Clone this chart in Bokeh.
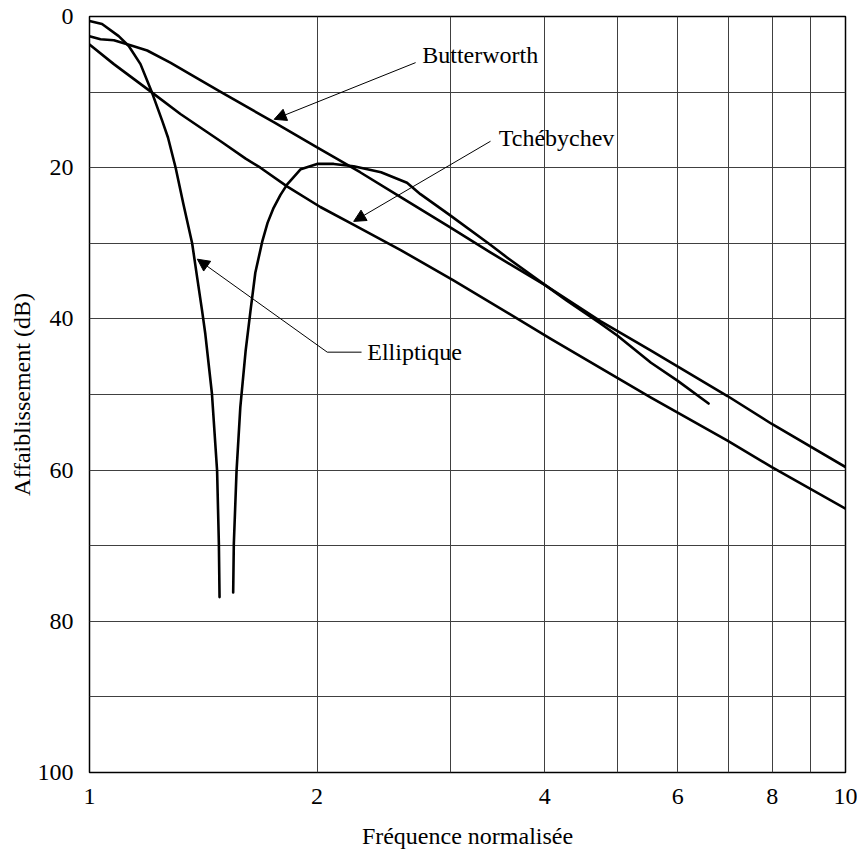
from bokeh.plotting import figure
from bokeh.models import Range1d, FixedTicker, PrintfTickFormatter, Arrow, NormalHead
from bokeh.core.properties import value
from bokeh.embed import file_html
from bokeh.resources import INLINE

# ---- data ----
butter_f = [1.00, 1.034, 1.077, 1.133, 1.192, 1.279, 1.36, 1.483, 1.755, 2.0, 2.28, 2.58, 3.0, 3.39, 4.0, 4.74, 5.53, 6.98, 7.99, 10.0]
butter_db = [2.6, 3.0, 3.15, 3.8, 4.5, 6.1, 7.65, 9.85, 14.0, 17.3, 20.6, 23.9, 27.9, 31.2, 35.5, 40.3, 44.2, 50.2, 53.9, 59.6]

tcheb_f = [1.0, 1.077, 1.204, 1.319, 1.491, 1.609, 1.683, 1.827, 2.02, 2.24, 2.58, 3.03, 4.07, 5.53, 6.98, 7.99, 10.0]
tcheb_db = [3.7, 6.3, 9.9, 12.9, 16.5, 18.8, 20.0, 22.5, 25.2, 27.6, 30.9, 34.9, 42.6, 50.4, 56.1, 59.6, 65.1]

ellip1_f = [1.0, 1.039, 1.093, 1.127, 1.168, 1.21, 1.248, 1.27, 1.30, 1.331, 1.367, 1.388, 1.409, 1.423, 1.452, 1.475, 1.483, 1.486]
ellip1_db = [0.6, 1.0, 2.6, 3.9, 6.3, 10.1, 13.8, 16.0, 20.0, 24.8, 30.0, 34.5, 38.9, 42.0, 49.9, 60.1, 69.8, 76.8]

ellip2_f = [1.549, 1.552, 1.565, 1.583, 1.609, 1.633, 1.657, 1.693, 1.720, 1.752, 1.789, 1.826, 1.903, 2.0, 2.104, 2.236, 2.43, 2.63, 2.74, 3.0, 3.39, 3.57, 3.99, 4.28, 4.74, 4.99, 5.53, 6.0, 6.59]
ellip2_db = [76.2, 69.8, 60.1, 51.7, 44.2, 38.9, 33.9, 29.7, 27.3, 25.3, 23.6, 22.2, 20.2, 19.5, 19.5, 19.8, 20.6, 22.0, 23.5, 26.3, 30.2, 31.9, 35.4, 37.6, 40.6, 42.2, 45.8, 48.2, 51.2]

x_ticks = [1, 2, 4, 6, 8, 10]
x_grid = [2, 3, 4, 5, 6, 7, 8, 9]
y_ticks = [0, 20, 40, 60, 80, 100]
y_grid = [10, 20, 30, 40, 50, 60, 70, 80, 90]

# labels and leaders (data coordinates)
label_text = ["Butterworth", "Tchébychev", "Elliptique"]
label_x = [2.755, 3.478, 2.33]
label_y = [5.1, 16.1, 44.4]
butter_leader = (2.70, 6.1, 1.755, 13.6)
tcheb_leader = (3.392, 16.5, 2.236, 27.1)
ellip_leader = (2.063, 44.4, 1.389, 32.1)
ellip_hline_x = [2.063, 2.29]
ellip_hline_y = [44.4, 44.4]

FONT = "Liberation Serif"
FS = "24px"

p = figure(width=857, height=854, x_axis_type="log",
           x_range=Range1d(1, 10), y_range=Range1d(100, 0),
           output_backend="svg", toolbar_location=None,
           min_border_left=89, min_border_right=12,
           min_border_top=16, min_border_bottom=82)

p.background_fill_color = "white"
p.border_fill_color = "white"
p.outline_line_color = "black"
p.outline_line_width = 1.5

p.xaxis.ticker = FixedTicker(ticks=x_ticks)
p.xaxis.formatter = PrintfTickFormatter(format="%d")
p.yaxis.ticker = FixedTicker(ticks=y_ticks)
p.yaxis.formatter = PrintfTickFormatter(format="%d")
p.xgrid.ticker = FixedTicker(ticks=x_grid)
p.ygrid.ticker = FixedTicker(ticks=y_grid)
for g in (p.xgrid, p.ygrid):
    g.grid_line_color = "#404040"
    g.grid_line_width = 1

for ax in (p.xaxis, p.yaxis):
    ax.axis_line_color = None
    ax.major_tick_line_color = None
    ax.minor_tick_line_color = None
    ax.major_tick_out = 0
    ax.major_tick_in = 0
    ax.minor_tick_out = 0
    ax.major_label_text_font = FONT
    ax.major_label_text_font_size = FS
    ax.major_label_text_color = "black"
    ax.axis_label_text_font = FONT
    ax.axis_label_text_font_size = FS
    ax.axis_label_text_font_style = "normal"
    ax.axis_label_text_color = "black"

p.xaxis.axis_label = "Fréquence normalisée"
p.yaxis.axis_label = "Affaiblissement (dB)"
p.xaxis.major_label_standoff = 16
p.xaxis.axis_label_standoff = 16
p.yaxis.major_label_standoff = 16
p.yaxis.axis_label_standoff = 0

lw = 2.6
for xs, ys in ((butter_f, butter_db), (tcheb_f, tcheb_db), (ellip1_f, ellip1_db), (ellip2_f, ellip2_db)):
    p.line(xs, ys, line_color="black", line_width=lw, line_join="round", line_cap="round")

for (x0, y0, x1, y1) in (butter_leader, tcheb_leader, ellip_leader):
    p.add_layout(Arrow(end=NormalHead(size=12, fill_color="black", line_color="black", line_width=1),
                       x_start=x0, y_start=y0, x_end=x1, y_end=y1,
                       line_color="black", line_width=1))
p.line(ellip_hline_x, ellip_hline_y, line_color="black", line_width=1)

p.text(x=label_x, y=label_y, text=label_text, text_font=value(FONT), text_font_size=FS,
       text_baseline="middle", text_align="left", text_color="black")

open("out.html", "w").write(file_html(p, INLINE))
